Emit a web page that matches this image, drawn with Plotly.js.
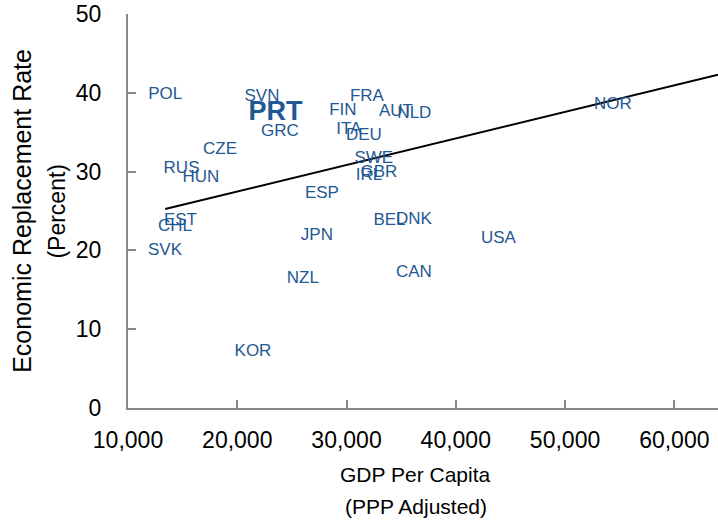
<!DOCTYPE html>
<html>
<head>
<meta charset="utf-8">
<script src="https://cdn.plot.ly/plotly-3.0.1.min.js"></script>
<style>html,body{margin:0;padding:0;background:#fff;}#chart{width:718px;height:527px;}</style>
</head>
<body>
<div id="chart"></div>
<script>
const countries = ["POL","SVN","GRC","CZE","RUS","HUN","EST","CHL","SVK","KOR","NZL","JPN","ESP","FRA","FIN","ITA","DEU","AUT","NLD","SWE","IRL","GBR","BEL","DNK","CAN","USA","NOR"];
const gdpPerCapita = [13400,22260,23900,18420,14900,16680,14800,14300,13390,21440,26010,27290,27750,31870,29670,30220,31590,34520,36210,32500,32050,32960,33930,36170,36170,43900,54370];
const replacementRate = [39.8,39.5,35.0,32.8,30.3,29.2,23.7,23.0,20.0,7.1,16.4,21.8,27.2,39.5,37.7,35.3,34.6,37.6,37.35,31.6,29.5,29.8,23.7,23.9,17.2,21.5,38.5];
const highlightName = ["PRT"];
const highlightGdp = [23500];
const highlightRate = [37.35];
const trendX = [13400, 64000];
const trendY = [25.25, 42.3];
const xTicks = [10000,20000,30000,40000,50000,60000];
const xTickText = ["10,000","20,000","30,000","40,000","50,000","60,000"];
const yTicks = [0,10,20,30,40,50];
const xTitleLines = ["GDP Per Capita", "(PPP Adjusted)"];
const yTitleLines = ["Economic Replacement Rate", "(Percent)"];

const blue = "#1F5893";
const font = "Liberation Sans, Arial, sans-serif";

const traces = [
  {x: trendX, y: trendY, mode: "lines", line: {color: "#000", width: 2}, hoverinfo: "skip"},
  {x: gdpPerCapita, y: replacementRate, text: countries, mode: "text", textposition: "middle center",
   textfont: {family: font, size: 17, color: blue}, cliponaxis: false},
  {x: highlightGdp, y: highlightRate, text: highlightName, mode: "text", textposition: "middle center",
   textfont: {family: font, size: 27, color: blue, weight: "bold"}, cliponaxis: false}
];

const xTitleFont = {family: font, size: 21, color: "#000"};
const layout = {
  width: 718, height: 527,
  margin: {l: 128, r: 0, t: 14, b: 119},
  showlegend: false,
  paper_bgcolor: "#fff", plot_bgcolor: "#fff",
  font: {family: font, color: "#000"},
  xaxis: {
    range: [10000, 64000], tickvals: xTicks, ticktext: xTickText,
    ticks: "inside", ticklen: 8, tickwidth: 2, tickcolor: "#888",
    showline: true, linecolor: "#888", linewidth: 2, showgrid: false, zeroline: false,
    tickfont: {family: font, size: 23, color: "#000"}, ticklabelstandoff: 10
  },
  yaxis: {
    range: [0, 50], tickvals: yTicks,
    ticks: "inside", ticklen: 8, tickwidth: 2, tickcolor: "#888",
    showline: true, linecolor: "#888", linewidth: 2, showgrid: false, zeroline: false,
    tickfont: {family: font, size: 23, color: "#000"}, ticklabelstandoff: 20
  },
  annotations: [
    {text: xTitleLines[0], xref: "paper", yref: "paper", x: 0.488, y: -0.168, xanchor: "center", yanchor: "middle", showarrow: false, font: xTitleFont},
    {text: xTitleLines[1], xref: "paper", yref: "paper", x: 0.488, y: -0.249, xanchor: "center", yanchor: "middle", showarrow: false, font: xTitleFont},
    {text: yTitleLines[0], xref: "paper", yref: "paper", x: -0.180, y: 0.50, xanchor: "center", yanchor: "middle", textangle: -90, showarrow: false, font: {family: font, size: 25, color: "#000"}},
    {text: yTitleLines[1], xref: "paper", yref: "paper", x: -0.121, y: 0.50, xanchor: "center", yanchor: "middle", textangle: -90, showarrow: false, font: {family: font, size: 23, color: "#000"}}
  ]
};
Plotly.newPlot("chart", traces, layout, {displayModeBar: false, staticPlot: true});
</script>
</body>
</html>
